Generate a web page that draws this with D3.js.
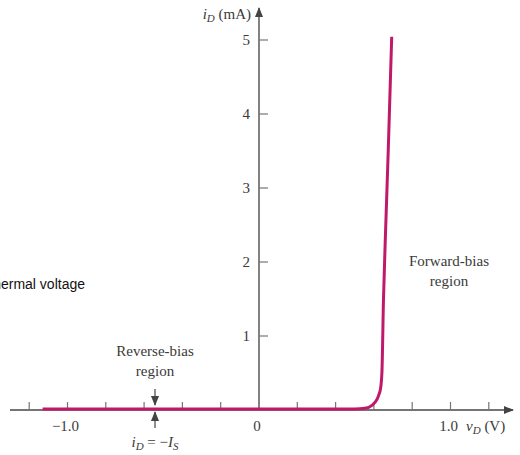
<!DOCTYPE html>
<html>
<head>
<meta charset="utf-8">
<script src="https://cdn.jsdelivr.net/npm/d3@7"></script>
<style>
  body { margin: 0; background: #fff; overflow: hidden; }
  svg { display: block; }
  .lbl { font-family: "Liberation Serif", "DejaVu Serif", serif; fill: #3a3a3a; font-size: 15px; }
</style>
</head>
<body>
<svg width="520" height="455"></svg>
<script>
// curve: diode current (mA) vs voltage (V)
const vValues = [-1.13, 0.0, 0.50, 0.553, 0.59, 0.616, 0.627, 0.636, 0.642, 0.650, 0.663, 0.675, 0.693];
const iValues = [0, 0, 0, 0.01, 0.05, 0.13, 0.2, 0.3, 0.5, 1.48, 2.56, 3.5, 5.03];

const xTicks = [-1.2, -1.0, -0.8, -0.6, -0.4, -0.2, 0.2, 0.4, 0.6, 0.8, 1.0, 1.2];
const xTickLabels = [[-1.0, '\u22121.0'], [0, '0'], [1.0, '1.0']];
const yTicks = [1, 2, 3, 4, 5];

document.addEventListener('DOMContentLoaded', e => {
  const svg = d3.select('svg');

  const x = d3.scaleLinear().domain([-1, 1]).range([67.5, 450.5]);
  const y = d3.scaleLinear().domain([0, 5]).range([410, 40]);

  const axisColor = '#757575';

  // arrow marker
  svg.append('defs').append('marker')
      .attr('id', 'arr')
      .attr('viewBox', '0 0 10 10')
      .attr('refX', 9).attr('refY', 5)
      .attr('markerWidth', 10).attr('markerHeight', 10)
      .attr('markerUnits', 'userSpaceOnUse')
      .attr('orient', 'auto')
    .append('path')
      .attr('d', 'M0,1 L10,5 L0,9 Z')
      .attr('fill', '#444');

  // x axis line
  svg.append('line')
      .attr('x1', 10).attr('x2', 513)
      .attr('y1', y(0)).attr('y2', y(0))
      .attr('stroke', axisColor).attr('stroke-width', 1.8)
      .attr('marker-end', 'url(#arr)');

  // y axis line
  svg.append('line')
      .attr('x1', x(0)).attr('x2', x(0))
      .attr('y1', y(0)).attr('y2', 8)
      .attr('stroke', axisColor).attr('stroke-width', 1.8)
      .attr('marker-end', 'url(#arr)');

  // x ticks (upward)
  svg.selectAll('.xt')
    .data(xTicks)
    .enter()
    .append('line')
      .attr('class', 'xt')
      .attr('x1', d => x(d)).attr('x2', d => x(d))
      .attr('y1', y(0)).attr('y2', y(0) - 8)
      .attr('stroke', axisColor).attr('stroke-width', 1.2);

  svg.selectAll('.xl')
    .data(xTickLabels)
    .enter()
    .append('text')
      .attr('class', 'lbl xl')
      .attr('x', d => x(d[0]) - 2)
      .attr('y', 431)
      .attr('text-anchor', 'middle')
      .text(d => d[1]);

  // y ticks (rightward)
  svg.selectAll('.yt')
    .data(yTicks)
    .enter()
    .append('line')
      .attr('class', 'yt')
      .attr('x1', x(0)).attr('x2', x(0) + 9)
      .attr('y1', d => y(d)).attr('y2', d => y(d))
      .attr('stroke', axisColor).attr('stroke-width', 1.2);

  svg.selectAll('.yl')
    .data(yTicks)
    .enter()
    .append('text')
      .attr('class', 'lbl yl')
      .attr('x', x(0) - 9)
      .attr('y', d => y(d) + 5)
      .attr('text-anchor', 'end')
      .text(d => d);

  // axis titles
  const yTitle = svg.append('text').attr('class', 'lbl')
      .attr('x', 251).attr('y', 19).attr('text-anchor', 'end');
  yTitle.append('tspan').attr('font-style', 'italic').text('i');
  yTitle.append('tspan').attr('font-style', 'italic').attr('font-size', 11).attr('dy', 3).text('D');
  yTitle.append('tspan').attr('dy', -3).text(' (mA)');

  const xTitle = svg.append('text').attr('class', 'lbl')
      .attr('x', 466).attr('y', 431);
  xTitle.append('tspan').attr('font-style', 'italic').text('v');
  xTitle.append('tspan').attr('font-style', 'italic').attr('font-size', 11).attr('dy', 3).text('D');
  xTitle.append('tspan').attr('dy', -3).text(' (V)');

  // the diode curve
  const line = d3.line()
      .x((d, i) => x(vValues[i]))
      .y(d => y(d) - 1)
      .curve(d3.curveMonotoneX);

  svg.append('path')
      .datum(iValues)
      .attr('d', line)
      .attr('fill', 'none')
      .attr('stroke', '#c0186a')
      .attr('stroke-width', 3)
      .attr('stroke-linejoin', 'round');

  // region labels
  svg.append('text').attr('class', 'lbl').attr('x', 155).attr('y', 356)
      .attr('text-anchor', 'middle').text('Reverse-bias');
  svg.append('text').attr('class', 'lbl').attr('x', 155).attr('y', 376)
      .attr('text-anchor', 'middle').text('region');
  svg.append('text').attr('class', 'lbl').attr('x', 449).attr('y', 266)
      .attr('text-anchor', 'middle').text('Forward-bias');
  svg.append('text').attr('class', 'lbl').attr('x', 449).attr('y', 286)
      .attr('text-anchor', 'middle').text('region');

  // arrows pointing at the reverse current
  svg.append('line')
      .attr('x1', 155).attr('x2', 155).attr('y1', 389).attr('y2', 405)
      .attr('stroke', '#444').attr('stroke-width', 1.2)
      .attr('marker-end', 'url(#arr)');
  svg.append('line')
      .attr('x1', 155).attr('x2', 155).attr('y1', 428).attr('y2', 412)
      .attr('stroke', '#444').attr('stroke-width', 1.2)
      .attr('marker-end', 'url(#arr)');

  const isLbl = svg.append('text').attr('class', 'lbl')
      .attr('x', 155).attr('y', 447).attr('text-anchor', 'middle');
  isLbl.append('tspan').attr('font-style', 'italic').text('i');
  isLbl.append('tspan').attr('font-style', 'italic').attr('font-size', 11).attr('dy', 3).text('D');
  isLbl.append('tspan').attr('dy', -3).text(' = \u2212');
  isLbl.append('tspan').attr('font-style', 'italic').text('I');
  isLbl.append('tspan').attr('font-style', 'italic').attr('font-size', 11).attr('dy', 3).text('S');

  // stray clipped label on the left edge (cut off in the reference too)
  svg.append('text')
      .attr('x', 85).attr('y', 289)
      .attr('text-anchor', 'end')
      .attr('font-family', 'Liberation Sans, Arial, sans-serif')
      .attr('font-size', 14)
      .attr('fill', '#111')
      .text('thermal voltage');
});
</script>
</body>
</html>
